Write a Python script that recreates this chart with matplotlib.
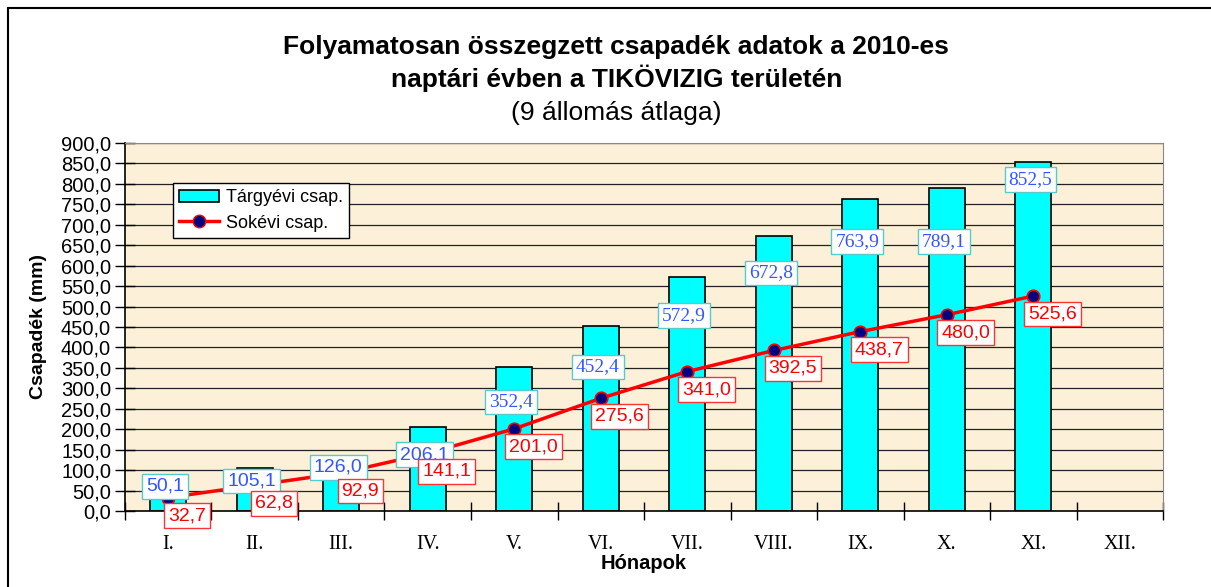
import numpy as np
import matplotlib
matplotlib.use("Agg")
import matplotlib.pyplot as plt
from matplotlib.lines import Line2D

# adatok
honapok = ["I.", "II.", "III.", "IV.", "V.", "VI.", "VII.", "VIII.", "IX.", "X.", "XI.", "XII."]
targyevi = [50.1, 105.1, 126.0, 206.1, 352.4, 452.4, 572.9, 672.8, 763.9, 789.1, 852.5]
sokevi = [32.7, 62.8, 92.9, 141.1, 201.0, 275.6, 341.0, 392.5, 438.7, 480.0, 525.6]
y_ticks = np.arange(0, 901, 50)

# cimke eltolasok (pixel) - kezzel igazitva mint az eredetin
kek_dy = [4, -13, -8, -28, -35, -41, -39, -37, -43, -53, -17]
# az elso negy kek cimke Arial, a tobbi Times az eredetin
kek_font = ["Liberation Sans"] * 4 + ["Liberation Serif"] * 7

fig = plt.figure(figsize=(12.11, 5.87), dpi=100)
ax = fig.add_axes([0.1032, 0.1295, 0.8572, 0.6269])
ax.set_facecolor("#fcf0d9")

x = np.arange(len(honapok))
xb = x[:len(targyevi)]
xl = x[:len(sokevi)]

for yv in y_ticks[1:]:
    ax.axhline(yv, color="#222222", lw=0.9, zorder=0.5)

ax.bar(xb, targyevi, width=0.42, color="#00ffff", edgecolor="black", lw=1.2, zorder=2)
ax.plot(xl, sokevi, color="#ff0000", lw=2.5, marker="o", ms=9,
        markerfacecolor="#000080", markeredgecolor="#ff0000", markeredgewidth=1.2, zorder=3)

px = 0.72  # pixel -> pont
for i, v in enumerate(targyevi):
    ax.annotate(f"{v:.1f}".replace(".", ","), (xb[i], v), xytext=(-3 * px, kek_dy[i] * px),
                textcoords="offset points", ha="center", va="center",
                fontsize=14, family=kek_font[i], color="#3355ff", zorder=5,
                bbox=dict(boxstyle="square,pad=0.2", fc="white", ec="#55cccc", lw=1))
for i, v in enumerate(sokevi):
    ax.annotate(f"{v:.1f}".replace(".", ","), (xl[i], v), xytext=(19 * px, -18 * px),
                textcoords="offset points", ha="center", va="center",
                fontsize=14, family="Liberation Sans", color="#ff0000", zorder=6,
                bbox=dict(boxstyle="square,pad=0.2", fc="white", ec="#ff3333", lw=1))

ax.set_xlim(-0.5, len(honapok) - 0.5)
ax.set_ylim(0, 900)
ax.set_yticks(y_ticks)
ax.set_yticklabels([f"{v:.1f}".replace(".", ",") for v in y_ticks],
                   fontsize=14.5, family="Liberation Sans")
ax.tick_params(axis="y", direction="inout", length=14, width=1, pad=3)

ax.set_xticks(x)
ax.set_xticklabels(honapok, fontsize=14.5, family="Liberation Serif")
ax.tick_params(axis="x", which="major", length=0, pad=17)
ax.set_xticks(np.arange(-0.5, len(honapok), 1), minor=True)
ax.tick_params(axis="x", which="minor", direction="inout", length=13, width=1)

for s in ["top", "right"]:
    ax.spines[s].set_color("#888888")
for s in ["left", "bottom"]:
    ax.spines[s].set_color("black")
    ax.spines[s].set_linewidth(1.2)

ax.set_ylabel("Csapadék (mm)", fontsize=14, fontweight="bold", family="Liberation Sans", labelpad=10)
ax.set_xlabel("Hónapok", fontsize=14.5, fontweight="bold", family="Liberation Sans", labelpad=0)

handles = [
    plt.Rectangle((0, 0), 1, 1, fc="#00ffff", ec="black", lw=1.2),
    Line2D([], [], color="#ff0000", lw=2.5, marker="o", ms=9,
           markerfacecolor="#000080", markeredgecolor="#ff0000"),
]
leg = ax.legend(handles, ["Tárgyévi csap.", "Sokévi csap."], loc="upper left",
                bbox_to_anchor=(0.046, 0.891), borderaxespad=0, fancybox=False, framealpha=1,
                edgecolor="black", prop={"family": "Liberation Sans", "size": 13},
                handlelength=2.2, borderpad=0.35, labelspacing=0.45, handletextpad=0.4)
leg.get_frame().set_linewidth(1)

fig.text(0.509, 0.892, "Folyamatosan összegzett csapadék adatok a 2010-es\nnaptári évben a TIKÖVIZIG területén",
         ha="center", va="center", fontsize=19, fontweight="bold", family="Liberation Sans",
         linespacing=1.25)
fig.text(0.509, 0.808, "(9 állomás átlaga)", ha="center", va="center",
         fontsize=19, family="Liberation Sans")

# keret
fig.add_artist(Line2D([8 / 1211, 8 / 1211], [0, 1 - 8 / 587], color="black", lw=1.5,
                      transform=fig.transFigure))
fig.add_artist(Line2D([8 / 1211, 1], [1 - 8 / 587, 1 - 8 / 587], color="black", lw=1.5,
                      transform=fig.transFigure))

fig.savefig("out.png", dpi=100)
